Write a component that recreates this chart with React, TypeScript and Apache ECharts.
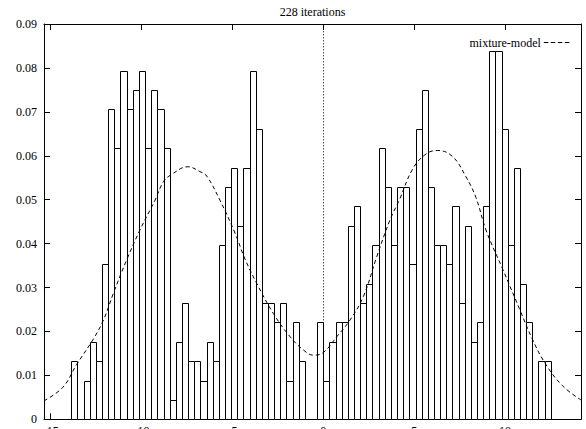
import React, { useEffect, useRef } from "react";
import * as echarts from "echarts";

const titleText = "228 iterations";
const legendName = "mixture-model";

// Histogram: first bin left edge and bin width (data units), heights (density)
const binLeftEdge = -13.866;
const binWidth = 0.3382;
const density = [
  0.0132, 0, 0.0088, 0.0176, 0.0132, 0.0353, 0.0706, 0.0617, 0.0794, 0.0706,
  0.075, 0.0794, 0.0617, 0.075, 0.0706, 0.0617, 0.0044, 0.0176, 0.0265, 0.0132,
  0.0132, 0.0088, 0.0176, 0.0132, 0.0397, 0.0529, 0.0573, 0.0441, 0.0573, 0.0794,
  0.0662, 0.0265, 0.0265, 0.0221, 0.0265, 0.0088, 0.0221, 0.0132, 0, 0,
  0.0221, 0.0088, 0.0176, 0.0221, 0.0221, 0.0441, 0.0485, 0.0265, 0.0309, 0.0397,
  0.0617, 0.0529, 0.0397, 0.0529, 0.0529, 0.0353, 0.0662, 0.075, 0.0529, 0.0397,
  0.0397, 0.0353, 0.0485, 0.0265, 0.0441, 0.0176, 0.0221, 0.0485, 0.0838, 0.0838,
  0.0662, 0.0397, 0.0573, 0.0309, 0.0221, 0, 0.0132, 0.0132,
];

// Mixture-model curve
const curveX = [
  -15.37, -14.33, -13.57, -12.65, -12.1, -11.55, -10.82, -10.09, -9.26, -8.8,
  -8.4, -7.45, -6.79, -6.42, -5.69, -4.86, -4.31, -3.67, -2.75, -1.83,
  -1.1, -0.55, 0, 0.74, 1.47, 2.2, 2.94, 3.67, 4.18, 4.92,
  5.65, 6.3, 7.12, 7.85, 8.4, 8.95, 9.87, 10.79, 11.52, 12.23,
  13.17, 14.18,
];
const curveY = [
  0.0042, 0.0073, 0.0125, 0.0183, 0.0226, 0.0287, 0.0363, 0.0431, 0.0499, 0.0541,
  0.0556, 0.0575, 0.0564, 0.0554, 0.0499, 0.0424, 0.0365, 0.031, 0.0241, 0.0188,
  0.0158, 0.0146, 0.0152, 0.0188, 0.0226, 0.0279, 0.037, 0.0454, 0.0499, 0.057,
  0.0604, 0.0612, 0.0598, 0.0552, 0.0505, 0.0431, 0.0342, 0.0252, 0.0181, 0.0126,
  0.0076, 0.0044,
];

const xTicks = [-15, -10, -5, 0, 5, 10];
const xMin = -15.37;
const xMax = 14.18;
const yMin = 0;
const yMax = 0.09;
const yInterval = 0.01;

const FONT = "'Liberation Serif', 'Times New Roman', serif";

export default function App() {
  const ref = useRef<HTMLDivElement>(null);
  useEffect(() => {
    if (!ref.current) return;
    const chart = echarts.init(ref.current, null, { renderer: "svg" });
    const barData = density.map((h, i) => [
      binLeftEdge + i * binWidth,
      binLeftEdge + (i + 1) * binWidth,
      h,
    ]);
    const curveData = curveX.map((x, i) => [x, curveY[i]]);
    const axisLine = { show: true, lineStyle: { color: "#000", width: 1 } };
    const textStyle = { fontFamily: FONT, fontSize: 12, color: "#000" };
    chart.setOption({
      animation: false,
      backgroundColor: "#fff",
      title: {
        text: titleText,
        left: 312.5,
        textAlign: "center",
        top: 6,
        padding: 0,
        textStyle: { ...textStyle, fontWeight: "normal" },
      },
      legend: {
        data: [
          {
            name: legendName,
            icon: "path://M0,0h4.5v1h-4.5zM7,0h4.5v1h-4.5zM14,0h4.5v1h-4.5zM21,0h4.5v1h-4.5z",
          },
        ],
        right: 16.7,
        top: 36.5,
        padding: 0,
        align: "right",
        itemWidth: 25.5,
        itemHeight: 1,
        itemGap: 4,
        textStyle: { ...textStyle, padding: [0, -2, 0, 0] },
      },
      grid: {
        left: 44,
        right: 5,
        top: 24,
        bottom: 9.7,
        containLabel: false,
        outerBoundsMode: "none",
      },
      xAxis: [
        {
          type: "value",
          position: "bottom",
          min: xMin,
          max: xMax,
          axisLine: { ...axisLine, onZero: false },
          splitLine: { show: false },
          axisTick: { inside: true, length: 6, customValues: xTicks, lineStyle: { color: "#000" } },
          axisLabel: { customValues: xTicks, margin: 6, ...textStyle },
        },
        {
          type: "value",
          position: "top",
          min: xMin,
          max: xMax,
          axisLine: { ...axisLine, onZero: false },
          splitLine: { show: false },
          axisTick: { inside: true, length: 6, customValues: xTicks, lineStyle: { color: "#000" } },
          axisLabel: { show: false },
        },
      ],
      yAxis: [
        {
          type: "value",
          position: "left",
          min: yMin,
          max: yMax,
          interval: yInterval,
          axisLine: { ...axisLine, onZero: false },
          splitLine: { show: false },
          axisTick: { inside: true, length: 6, lineStyle: { color: "#000" } },
          axisLabel: {
            margin: 7,
            ...textStyle,
            formatter: (v: number) => (v === 0 ? "0" : v.toFixed(2)),
          },
        },
        {
          type: "value",
          position: "right",
          min: yMin,
          max: yMax,
          interval: yInterval,
          axisLine: { ...axisLine, onZero: false },
          splitLine: { show: false },
          axisTick: { inside: true, length: 6, lineStyle: { color: "#000" } },
          axisLabel: { show: false },
        },
      ],
      series: [
        {
          type: "custom",
          name: "histogram",
          xAxisIndex: 0,
          yAxisIndex: 0,
          z: 2,
          encode: { x: [0, 1], y: 2 },
          data: barData,
          renderItem: (params: any, api: any) => {
            const x0 = api.value(0);
            const x1 = api.value(1);
            const h = api.value(2);
            if (!h) return null;
            const p0 = api.coord([x0, h]);
            const p1 = api.coord([x1, 0]);
            const left = Math.round(p0[0]) + 0.5;
            const right = Math.round(p1[0]) + 0.5;
            const top = Math.round(p0[1]) + 0.5;
            const bottom = Math.round(p1[1]) + 0.5;
            return {
              type: "rect",
              shape: { x: left, y: top, width: right - left, height: bottom - top },
              style: { fill: "#fff", stroke: "#000", lineWidth: 1 },
            };
          },
        },
        {
          type: "line",
          name: legendName,
          xAxisIndex: 0,
          yAxisIndex: 0,
          z: 3,
          data: curveData,
          smooth: 0.4,
          symbol: "none",
          lineStyle: { color: "#000", width: 1, type: [4, 3] },
          itemStyle: { color: "#000" },
          markLine: {
            silent: true,
            symbol: ["none", "none"],
            label: { show: false },
            lineStyle: { color: "#000", width: 1, type: [1, 2] },
            data: [{ xAxis: 0 }],
          },
        },
      ],
    });
    return () => chart.dispose();
  }, []);
  return (
    <div
      ref={ref}
      style={{ position: "fixed", left: 0, top: 0, width: 586, height: 429, background: "#fff" }}
    />
  );
}
